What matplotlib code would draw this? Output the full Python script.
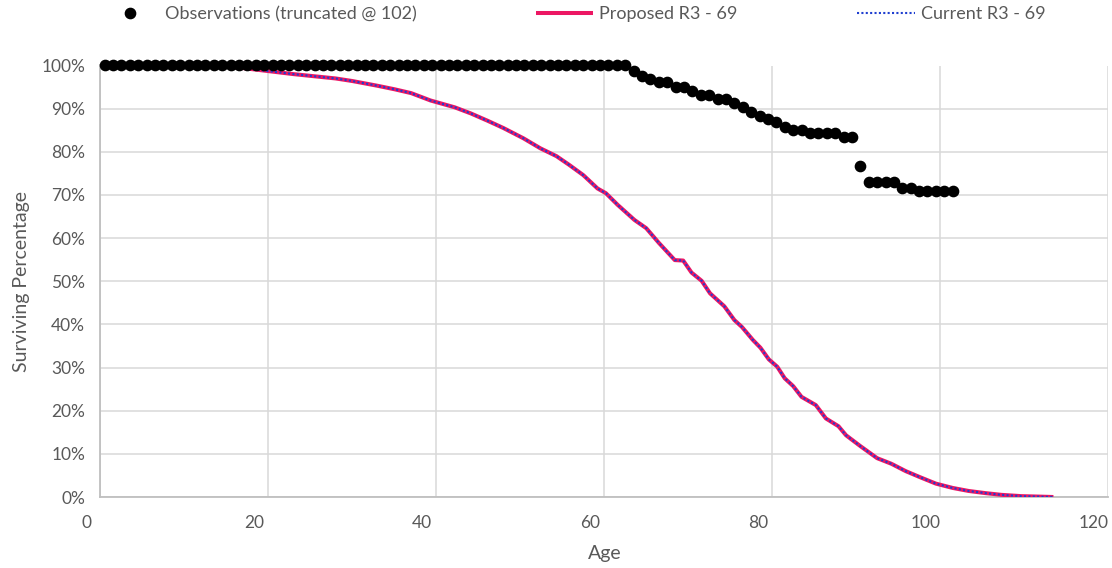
import matplotlib
matplotlib.use("Agg")
import matplotlib.pyplot as plt
import matplotlib.transforms as mtransforms
from matplotlib.ticker import FuncFormatter

plt.rcParams['font.family'] = ['Lato', 'DejaVu Sans']

# ---- data ----
obs_age = [0.5, 1.5, 2.5, 3.5, 4.5, 5.5, 6.5, 7.5, 8.5, 9.5,
           10.5, 11.5, 12.5, 13.5, 14.5, 15.5, 16.5, 17.5, 18.5, 19.5,
           20.5, 21.5, 22.5, 23.5, 24.5, 25.5, 26.5, 27.5, 28.5, 29.5,
           30.5, 31.5, 32.5, 33.5, 34.5, 35.5, 36.5, 37.5, 38.5, 39.5,
           40.5, 41.5, 42.5, 43.5, 44.5, 45.5, 46.5, 47.5, 48.5, 49.5,
           50.5, 51.5, 52.5, 53.5, 54.5, 55.5, 56.5, 57.5, 58.5, 59.5,
           60.5, 61.5, 62.5, 63.5, 64.5, 65.5, 66.5, 67.5, 68.5, 69.5,
           70.5, 71.5, 72.5, 73.5, 74.5, 75.5, 76.5, 77.5, 78.5, 79.5,
           80.5, 81.5, 82.5, 83.5, 84.5, 85.5, 86.5, 87.5, 88.5, 89.5,
           90.5, 91.5, 92.5, 93.5, 94.5, 95.5, 96.5, 97.5, 98.5, 99.5,
           100.5, 101.5]
obs_pct = [100, 100, 100, 100, 100, 100, 100, 100, 100, 100,
           100, 100, 100, 100, 100, 100, 100, 100, 100, 100,
           100, 100, 100, 100, 100, 100, 100, 100, 100, 100,
           100, 100, 100, 100, 100, 100, 100, 100, 100, 100,
           100, 100, 100, 100, 100, 100, 100, 100, 100, 100,
           100, 100, 100, 100, 100, 100, 100, 100, 100, 100,
           100, 100, 100, 98.8, 97.6, 96.8, 96.1, 96.1, 95.1, 95.1,
           94.1, 93.2, 93.2, 92.3, 92.3, 91.4, 90.3, 89.3, 88.4, 87.7,
           86.8, 85.8, 85.1, 85.1, 84.3, 84.3, 84.3, 84.3, 83.4, 83.4,
           76.8, 72.9, 72.9, 72.9, 72.9, 71.5, 71.5, 70.8, 70.8, 70.8,
           70.8, 70.8]

curve_age = [0.5, 5, 10, 14, 17, 20, 23, 25, 28, 30, 33, 35, 37, 39.3,
             42.2, 44.1, 46.1, 48.0, 50.4, 52.4, 54.3, 55.8, 57.5, 59.2,
             60.2, 61.6, 63.6, 65.0, 66.5, 68.4, 69.4, 70.4, 71.6, 72.6,
             74.3, 75.5, 76.4, 77.7, 78.6, 79.6, 80.6, 81.5, 82.5, 83.5,
             85.2, 86.4, 87.9, 88.8, 90.5, 92.5, 94.2, 95.9, 97.6, 99.5,
             101.5, 103.4, 105.4, 107.3, 109.7, 111.7, 113.5]
proposed_pct = [100.0, 100.0, 100.0, 99.9, 99.4, 98.7, 98.0, 97.6, 97.0, 96.4,
                95.3, 94.5, 93.6, 91.9, 90.3, 88.9, 87.2, 85.5, 83.1, 80.8,
                79.0, 77.0, 74.6, 71.5, 70.4, 67.7, 64.2, 62.3, 58.9, 54.9,
                54.8, 52.0, 50.1, 47.2, 44.2, 41.0, 39.4, 36.4, 34.6, 31.9,
                30.2, 27.5, 25.7, 23.2, 21.3, 18.2, 16.4, 14.3, 11.8, 9.0,
                7.7, 6.0, 4.6, 3.1, 2.1, 1.4, 0.9, 0.5, 0.2, 0.1, 0.0]
current_pct = [100.0, 100.0, 100.0, 99.9, 99.4, 98.7, 98.0, 97.6, 97.0, 96.4,
               95.3, 94.5, 93.6, 91.9, 90.3, 88.9, 87.2, 85.5, 83.1, 80.8,
               79.0, 77.0, 74.6, 71.5, 70.4, 67.7, 64.2, 62.3, 58.9, 54.9,
               54.8, 52.0, 50.1, 47.2, 44.2, 41.0, 39.4, 36.4, 34.6, 31.9,
               30.2, 27.5, 25.7, 23.2, 21.3, 18.2, 16.4, 14.3, 11.8, 9.0,
               7.7, 6.0, 4.6, 3.1, 2.1, 1.4, 0.9, 0.5, 0.2, 0.1, 0.0]

x_ticks = [0, 20, 40, 60, 80, 100, 120]
y_ticks = [0, 10, 20, 30, 40, 50, 60, 70, 80, 90, 100]

labels = ["Observations (truncated @ 102)", "Proposed R3 - 69", "Current R3 - 69"]

# ---- figure ----
W, H = 1112, 568
fig = plt.figure(figsize=(W / 100, H / 100), dpi=100)
ax = fig.add_axes([100.5 / W, (H - 497) / H, (1108 - 100.5) / W, (497 - 65.5) / H])

text_color = '#595959'
grid_color = '#D9D9D9'

l1, = ax.plot(obs_age, obs_pct, linestyle='none', marker='o', markersize=7.4,
              color='black', clip_on=False, zorder=5, label=labels[0])
l2, = ax.plot(curve_age, proposed_pct, color='#EC1763', linewidth=2.9,
              solid_capstyle='butt', zorder=3, label=labels[1])
l3, = ax.plot(curve_age, current_pct, color='#1F3FD0', linewidth=1.5,
              linestyle=(0, (1, 1.1)), zorder=4, label=labels[2])

ax.set_xlim(0, 120)
ax.set_ylim(0, 100)
ax.set_xticks(x_ticks)
ax.set_yticks(y_ticks)
ax.yaxis.set_major_formatter(FuncFormatter(lambda v, p: f"{v:.0f}%"))
ax.grid(True, color=grid_color, linewidth=1.1)
ax.set_axisbelow(True)

for s in ['top', 'right']:
    ax.spines[s].set_visible(False)
for s in ['left', 'bottom']:
    ax.spines[s].set_color('#BFBFBF')
    ax.spines[s].set_linewidth(1.3)

ax.tick_params(axis='both', length=0, labelsize=12.5, labelcolor=text_color)
ax.tick_params(axis='x', pad=13)
ax.tick_params(axis='y', pad=11)

offset = mtransforms.ScaledTranslation(-0.14, 0, fig.dpi_scale_trans)
for lab in ax.get_xticklabels():
    lab.set_transform(lab.get_transform() + offset)

ax.set_xlabel("Age", fontsize=14, color=text_color, labelpad=10)
ax.set_ylabel("Surviving Percentage", fontsize=14, color=text_color, labelpad=8)

leg = fig.legend(handles=[l1, l2, l3], labels=labels, loc='center left',
                 bbox_to_anchor=(101 / W, 1 - 14 / H), ncol=3, frameon=False,
                 fontsize=13, handlelength=3.2, handletextpad=0.33,
                 columnspacing=6.6, borderpad=0, borderaxespad=0)
for t in leg.get_texts():
    t.set_color(text_color)

fig.savefig('out.png', dpi=100)
